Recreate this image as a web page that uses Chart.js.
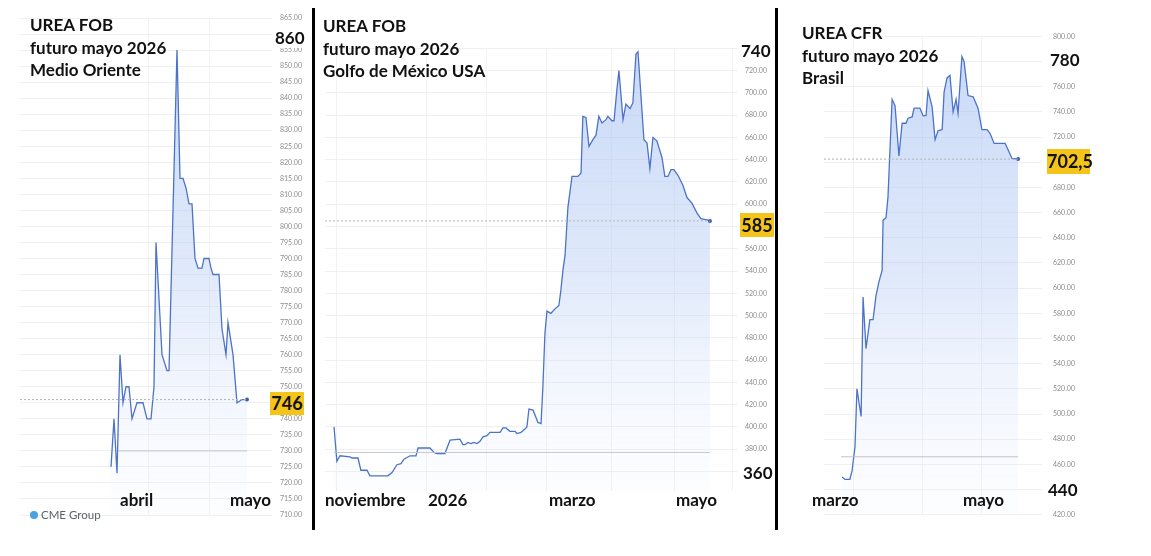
<!DOCTYPE html>
<html lang="es">
<head>
<meta charset="utf-8">
<title>Urea futuro mayo 2026</title>
<script src="https://cdn.jsdelivr.net/npm/chart.js@4.4.1/dist/chart.umd.min.js"></script>
<style>
    body { margin: 0; background: #fff; width: 1151px; height: 556px; overflow: hidden; position: relative; font-family: Lato, "Open Sans", sans-serif; color: #111; }
    .panel { position: absolute; top: 0; height: 540px; }
    .titulo { position: absolute; font-weight: bold; font-size: 17px; line-height: 22.5px; white-space: nowrap; }
    .fecha { position: absolute; top: 490px; font-weight: bold; font-size: 17px; line-height: 20px; white-space: nowrap; }
    .num { position: absolute; font-weight: bold; font-size: 17px; line-height: 20px; background: #fff; padding: 0 2px; }
    .caja { position: absolute; font-weight: bold; font-size: 18px; background: #f4c41a; text-align: center; }
    .sep { position: absolute; top: 8px; width: 3px; height: 522px; background: #000; }
    .cme { position: absolute; left: 30px; top: 508px; font-size: 11.5px; color: #59636e; white-space: nowrap; }
    .cme span { display: inline-block; width: 8px; height: 8px; border-radius: 50%; background: #4aa3df; margin-right: 3px; }
</style>
</head>
<body>

<div class="panel" style="left:0;width:312px"><canvas id="graficoMO"></canvas></div>
<div class="panel" style="left:316px;width:459px"><canvas id="graficoGolfo"></canvas></div>
<div class="panel" style="left:779px;width:372px"><canvas id="graficoBrasil"></canvas></div>

<div class="sep" style="left:312px"></div>
<div class="sep" style="left:775px"></div>

<div class="titulo" style="left:30px;top:14px">UREA FOB<br>futuro mayo 2026<br>Medio Oriente</div>
<div class="titulo" style="left:323px;top:15px">UREA FOB<br>futuro mayo 2026<br>Golfo de México USA</div>
<div class="titulo" style="left:802px;top:22px">UREA CFR<br>futuro mayo 2026<br>Brasil</div>

<div class="fecha" style="left:120px">abril</div>
<div class="fecha" style="left:230px">mayo</div>
<div class="fecha" style="left:325px">noviembre</div>
<div class="fecha" style="left:428px">2026</div>
<div class="fecha" style="left:549px">marzo</div>
<div class="fecha" style="left:676px">mayo</div>
<div class="fecha" style="left:812px">marzo</div>
<div class="fecha" style="left:963px">mayo</div>

<div class="num" style="left:273px;top:28px">860</div>
<div class="caja" style="left:270px;top:392px;width:34px;height:23px;line-height:23px">746</div>
<div class="num" style="left:739px;top:41px">740</div>
<div class="caja" style="left:740px;top:213px;width:34px;height:24px;line-height:24px">585</div>
<div class="num" style="left:741px;top:463px">360</div>
<div class="num" style="left:1048px;top:50px">780</div>
<div class="caja" style="left:1047px;top:149px;width:43px;height:25px;line-height:25px">702,5</div>
<div class="num" style="left:1046px;top:480px">440</div>

<div class="cme"><span></span>CME Group</div>

<script>
// Medio Oriente: dias desde el 1 de marzo 2026
const diasMO = [19.9, 20.8, 21.7, 22.6, 23.5, 24.4, 25.3, 26.2, 27.7, 29.5,
    30.7, 31.9, 32.8, 33.4, 35.2, 36.7, 37.3, 39.7, 40.6, 41.5,
    42.4, 43.3, 44.2, 45.1, 46.0, 47.2, 47.8, 49.3, 49.9, 50.5,
    52.3, 53.2, 54.4, 55.0, 56.5, 57.7, 59.2, 60.7];
const preciosMO = [725, 740, 723, 760, 745, 750, 750, 740, 745, 745,
    740, 740, 750, 795, 760, 755, 755, 855, 815, 815,
    812, 807, 807, 790, 787, 787, 790, 790, 787, 785,
    785, 768, 760, 770, 760, 745, 746, 746];
const ticksMO = [710, 715, 720, 725, 730, 735, 740, 745, 750, 755, 760, 765, 770, 775, 780, 785,
    790, 795, 800, 805, 810, 815, 820, 825, 830, 835, 840, 845, 850, 855, 860, 865];

// Golfo de Mexico: dias desde el 1 de enero 2026
const diasGolfo = [-55.1, -53.7, -52.2, -47.3, -46.3, -43.4, -42.0, -39.0, -37.6, -28.8,
    -26.8, -24.4, -22.4, -21.0, -18.0, -15.1, -14.1, -8.3, -6.3, -4.9,
    -1.0, 1.5, 6.3, 7.8, 8.8, 10.2, 11.7, 13.2, 14.6, 16.1,
    17.6, 19.5, 21.0, 25.9, 27.3, 28.8, 30.7, 33.2, 34.1, 36.1,
    38.0, 39.0, 40.0, 42.0, 44.4, 45.9, 46.8, 47.8, 48.8, 50.7,
    52.7, 54.6, 55.6, 56.6, 57.6, 59.0, 61.0, 63.9, 65.4, 66.3,
    67.8, 69.3, 71.2, 72.7, 74.1, 75.6, 77.6, 78.5, 80.5, 81.5,
    82.9, 83.9, 85.9, 87.3, 89.3, 90.7, 92.2, 93.2, 96.1, 97.6,
    99.0, 100.5, 102.4, 104.9, 106.3, 107.8, 109.3, 110.7, 112.7, 115.1,
    117.1, 119.5, 122.0, 123.9, 126.8, 128.3];
const preciosGolfo = [400, 369, 374, 373, 372, 372, 361, 361, 356, 356,
    359, 366, 367, 371, 374, 374, 381, 381, 377, 376,
    376, 388, 389, 384, 384, 386, 385, 386, 385, 387,
    391, 392, 395, 395, 399, 399, 396, 396, 394, 395,
    398, 400, 416, 415, 404, 403, 436, 484, 504, 502,
    506, 509, 523, 541, 554, 597, 625, 625, 628, 679,
    678, 652, 658, 662, 679, 673, 676, 679, 675, 675,
    703, 720, 676, 690, 686, 691, 735, 737, 658, 655,
    632, 660, 657, 642, 625, 625, 631, 631, 626, 617,
    606, 601, 592, 587, 586, 585];
const ticksGolfo = [360, 380, 400, 420, 440, 460, 480, 500, 520, 540, 560, 580, 600, 620, 640, 660, 680, 700, 720, 740];

// Brasil: dias desde el 1 de marzo 2026
const diasBrasil = [2.9, 4.1, 6.1, 7.0, 8.2, 9.0, 10.7, 11.5, 12.7, 14.3,
    15.6, 16.8, 18.0, 19.3, 19.7, 20.9, 21.7, 23.4, 24.6, 26.2,
    27.5, 29.1, 29.9, 31.6, 32.4, 34.8, 36.1, 37.3, 38.1, 39.8,
    41.0, 42.2, 43.9, 44.7, 45.9, 47.1, 48.4, 49.6, 50.4, 52.0,
    52.9, 54.5, 56.6, 58.6, 60.2, 62.3, 63.5, 65.2, 69.7, 70.9,
    72.5, 75.0];
const preciosBrasil = [450, 448, 448, 455, 474, 520, 498, 593, 552, 575,
    575, 594, 605, 614, 654, 656, 672, 750, 745, 705,
    731, 731, 735, 736, 743, 743, 737, 737, 757, 744,
    718, 725, 726, 756, 767, 769, 740, 750, 739, 784,
    780, 753, 752, 743, 726, 726, 723, 715, 715, 710,
    703, 702.5];
const ticksBrasil = [420, 440, 460, 480, 500, 520, 540, 560, 580, 600, 620, 640, 660, 680, 700, 720, 740, 760, 780, 800];

// ultimo precio y linea de referencia de cada grafico
const ultimoMO = 746, referenciaMO = 730;
const ultimoGolfo = 585, referenciaGolfo = 377;
const ultimoBrasil = 702.5, referenciaBrasil = 466;

// relleno azul degradado bajo la curva
function relleno(context) {
    const chart = context.chart;
    const area = chart.chartArea;
    if (!area) {
        return 'rgba(190,210,245,0.4)';
    }
    const g = chart.ctx.createLinearGradient(0, area.top, 0, area.bottom);
    g.addColorStop(0, 'rgba(165,192,242,0.62)');
    g.addColorStop(0.5, 'rgba(185,206,245,0.45)');
    g.addColorStop(1, 'rgba(225,234,252,0.08)');
    return g;
}

function crearGrafico(id, dias, precios, cfg) {
    const ctx = document.getElementById(id).getContext('2d');
    const puntos = dias.map((d, i) => ({ x: d, y: precios[i] }));
    const ultimoDia = dias[dias.length - 1];

    return new Chart(ctx, {
        type: 'line',
        data: {
            datasets: [
                {
                    data: puntos,
                    borderColor: '#4d73c7',
                    borderWidth: 1.3,
                    tension: 0,
                    fill: 'start',
                    backgroundColor: relleno,
                    pointRadius: c => c.dataIndex === puntos.length - 1 ? 2 : 0,
                    pointBackgroundColor: '#3a5eae',
                    pointBorderWidth: 0,
                    order: 1
                },
                {
                    // ultimo precio, punteado
                    data: [{ x: cfg.xMin, y: cfg.ultimo }, { x: ultimoDia, y: cfg.ultimo }],
                    borderColor: '#b4b4b4',
                    borderWidth: 1,
                    borderDash: [2, 2],
                    pointRadius: 0,
                    fill: false,
                    order: 0
                },
                {
                    data: [{ x: cfg.refDesde, y: cfg.referencia }, { x: ultimoDia, y: cfg.referencia }],
                    borderColor: cfg.colorRef,
                    borderWidth: 1,
                    pointRadius: 0,
                    fill: false,
                    order: 0
                }
            ]
        },
        options: {
            responsive: true,
            maintainAspectRatio: false,
            animation: false,
            layout: { padding: cfg.padding },
            plugins: {
                legend: { display: false },
                tooltip: { enabled: false }
            },
            scales: {
                x: {
                    type: 'linear',
                    min: cfg.xMin,
                    max: cfg.xMax,
                    afterBuildTicks: s => { s.ticks = cfg.xGrid.map(v => ({ value: v })); },
                    afterFit: s => { s.height = 0; },
                    ticks: { display: false },
                    grid: { color: '#f2f2f2', drawTicks: false },
                    border: { display: false }
                },
                y: {
                    position: 'right',
                    min: cfg.yMin,
                    max: cfg.yTicks[cfg.yTicks.length - 1],
                    afterBuildTicks: s => { s.ticks = cfg.yTicks.map(v => ({ value: v })); },
                    afterFit: s => { s.width = cfg.anchoEje; },
                    ticks: {
                        padding: cfg.sepTicks,
                        color: '#8c8c8c',
                        font: { size: 7, family: 'Lato' },
                        callback: v => Number(v).toFixed(2)
                    },
                    grid: { color: '#f0f0f0', drawTicks: false },
                    border: { display: false }
                }
            }
        }
    });
}

window.onload = function () {
    crearGrafico('graficoMO', diasMO, preciosMO, {
        xMin: -7.4, xMax: 68.2, yMin: 710, yTicks: ticksMO,
        xGrid: [31, 49.6],
        ultimo: ultimoMO, referencia: referenciaMO, refDesde: 22.0, colorRef: '#c3c6d2',
        padding: { left: 20, right: 4, top: 18, bottom: 25 },
        anchoEje: 36, sepTicks: 8
    });

    crearGrafico('graficoGolfo', diasGolfo, preciosGolfo, {
        xMin: -59.5, xMax: 141.5, yMin: 342, yTicks: ticksGolfo,
        xGrid: [-53.7, -9.8, 19.5, 48.8, 80.5, 111.2, 139.5],
        ultimo: ultimoGolfo, referencia: referenciaGolfo, refDesde: -55.1, colorRef: '#c3c6d2',
        padding: { left: 9, right: 2, top: 48.4, bottom: 48.6 },
        anchoEje: 36, sepTicks: 8
    });

    crearGrafico('graficoBrasil', diasBrasil, preciosBrasil, {
        xMin: -4.5, xMax: 84.8, yMin: 420, yTicks: ticksBrasil,
        xGrid: [7.4, 35.7, 60.2],
        ultimo: ultimoBrasil, referencia: referenciaBrasil, refDesde: 2.5, colorRef: '#c8bccb',
        padding: { left: 45, right: 69, top: 36.4, bottom: 25.3 },
        anchoEje: 40, sepTicks: 11
    });
};
</script>
</body>
</html>
